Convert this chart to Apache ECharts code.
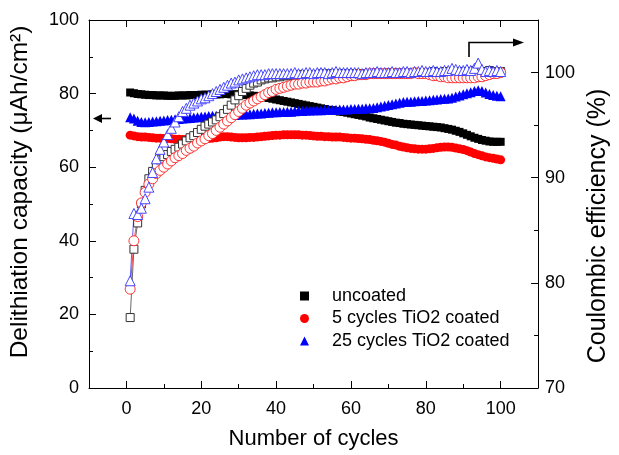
<!DOCTYPE html>
<html><head><meta charset="utf-8">
<script src="https://cdn.jsdelivr.net/npm/echarts@6/dist/echarts.min.js"></script>
<style>html,body{margin:0;padding:0;background:#fff}#c{width:619px;height:455px}</style>
</head><body><div id="c"></div>
<script>
const cycles = [1,2,3,4,5,6,7,8,9,10,11,12,13,14,15,16,17,18,19,20,21,22,23,24,25,26,27,28,29,30,31,32,33,34,35,36,37,38,39,40,41,42,43,44,45,46,47,48,49,50,51,52,53,54,55,56,57,58,59,60,61,62,63,64,65,66,67,68,69,70,71,72,73,74,75,76,77,78,79,80,81,82,83,84,85,86,87,88,89,90,91,92,93,94,95,96,97,98,99,100];

// Delithiation capacity (left axis, µAh/cm²)
const capUncoated = [80.3,80.1,79.9,79.8,79.7,79.6,79.6,79.5,79.5,79.5,
 79.4,79.4,79.4,79.5,79.5,79.5,79.6,79.6,79.6,79.7,
 79.7,79.7,79.8,79.8,79.8,79.9,79.9,79.8,79.8,79.8,
 79.7,79.6,79.5,79.4,79.3,79.1,79.0,78.8,78.6,78.4,
 78.2,78.0,77.8,77.6,77.4,77.2,77.0,76.8,76.6,76.4,
 76.2,76.0,75.8,75.6,75.5,75.3,75.1,75.0,74.8,74.6,
 74.4,74.2,74.0,73.8,73.5,73.3,73.1,72.9,72.7,72.5,
 72.3,72.1,72.0,71.8,71.7,71.6,71.5,71.4,71.3,71.2,
 71.1,71.0,70.9,70.8,70.6,70.4,70.2,69.9,69.6,69.2,
 68.8,68.4,68.0,67.7,67.4,67.2,67.0,66.9,66.9,66.9];
const cap5 = [68.7,68.5,68.3,68.2,68.2,68.1,68.0,67.9,67.9,67.8,
 67.8,67.7,67.6,67.6,67.5,67.5,67.5,67.4,67.5,67.6,
 67.7,67.8,67.9,68.0,68.2,68.3,68.3,68.2,68.1,68.0,
 68.0,68.0,68.1,68.1,68.2,68.3,68.4,68.5,68.6,68.7,
 68.7,68.8,68.8,68.8,68.8,68.8,68.7,68.7,68.6,68.5,
 68.4,68.4,68.3,68.3,68.2,68.2,68.2,68.1,68.0,67.9,
 67.9,67.8,67.7,67.6,67.5,67.3,67.2,67.0,66.8,66.5,
 66.2,66.0,65.7,65.5,65.3,65.1,65.0,64.9,64.9,64.9,
 65.0,65.1,65.3,65.4,65.5,65.5,65.4,65.2,65.0,64.8,
 64.5,64.1,63.7,63.4,63.1,62.8,62.6,62.4,62.2,62.0];
const cap25 = [73.6,73.2,72.6,72.3,72.2,72.3,72.4,72.5,72.6,72.7,
 72.8,72.9,73.0,73.1,73.2,73.3,73.4,73.5,73.6,73.7,
 73.8,73.9,74.0,74.0,74.1,74.1,74.2,74.2,74.2,74.3,
 74.3,74.4,74.4,74.5,74.6,74.6,74.7,74.8,74.9,74.9,
 75.0,75.0,75.1,75.1,75.2,75.3,75.3,75.4,75.4,75.5,
 75.5,75.5,75.6,75.6,75.6,75.6,75.7,75.7,75.7,75.8,
 75.8,75.9,75.9,76.0,76.0,76.1,76.3,76.5,76.7,76.9,
 77.1,77.3,77.5,77.7,77.8,77.8,77.9,78.0,78.0,78.1,
 78.2,78.3,78.4,78.5,78.6,78.7,78.9,79.2,79.5,79.8,
 80.1,80.4,80.7,80.9,80.7,80.3,79.9,79.6,79.4,79.3];

// Coulombic efficiency (right axis, %)
const ceUncoated = [76.7,83.2,85.7,87.5,88.8,89.9,90.6,91.2,91.7,92.0,
 92.2,92.5,92.7,92.9,93.2,93.5,93.8,94.0,94.3,94.6,
 94.9,95.1,95.3,95.5,95.8,96.1,96.5,96.9,97.4,97.8,
 98.2,98.5,98.8,99.0,99.1,99.3,99.4,99.5,99.5,99.6,
 99.6,99.7,99.7,99.7,99.7,99.8,99.8,99.8,99.8,99.8,
 99.8,99.9,99.9,99.8,99.9,99.9,99.9,99.9,99.8,99.9,
 99.9,99.9,99.9,99.9,99.9,99.9,100.0,99.9,99.9,100.0,
 100.0,100.0,100.0,99.9,100.0,100.0,100.0,100.0,100.0,100.0,
 100.0,100.1,100.0,100.0,100.1,100.1,100.0,100.1,100.1,100.1,
 100.1,100.1,100.2,100.1,100.1,100.1,100.2,100.1,100.1,100.1];
const ce5 = [79.4,84.0,86.3,87.6,88.6,89.4,89.9,90.4,90.7,91.0,
 91.3,91.6,91.9,92.1,92.3,92.6,92.8,93.0,93.3,93.5,
 93.7,94.0,94.2,94.5,94.8,95.1,95.4,95.7,96.0,96.3,
 96.6,96.9,97.1,97.3,97.5,97.7,97.9,98.1,98.2,98.4,
 98.5,98.6,98.7,98.8,98.9,98.9,99.0,99.0,99.1,99.1,
 99.1,99.2,99.2,99.3,99.4,99.4,99.5,99.5,99.6,99.7,
 99.7,99.8,99.8,99.8,99.9,99.9,99.9,99.9,99.9,99.9,
 99.9,99.9,99.9,99.9,99.9,99.9,100.0,99.9,99.9,99.9,
 99.8,99.7,99.7,99.6,99.6,99.5,99.5,99.5,99.5,99.5,
 99.5,99.5,99.5,99.6,99.6,99.7,99.8,99.9,99.9,100.0];
const ce25 = [80.2,86.6,86.5,87.1,88.0,89.1,90.5,91.8,92.7,93.4,
 94.1,94.7,95.3,95.8,96.3,96.6,96.9,97.1,97.3,97.5,
 97.6,97.8,98.0,98.2,98.4,98.6,98.8,99.0,99.1,99.3,
 99.4,99.5,99.6,99.7,99.8,99.8,99.8,99.9,99.9,99.9,
 99.9,99.9,99.9,99.9,100.0,99.9,99.9,100.0,100.0,99.9,
 100.0,100.0,100.0,99.9,100.0,100.1,100.0,100.0,100.0,100.0,
 100.0,100.0,99.9,100.0,100.0,100.0,100.1,100.0,100.0,100.0,
 100.1,100.0,100.0,100.1,100.1,100.0,100.1,100.1,100.2,100.1,
 100.1,100.2,100.1,100.1,100.2,100.2,100.4,100.3,100.2,100.2,
 100.3,100.2,100.4,100.9,100.3,100.1,100.2,100.1,100.2,100.1];

const seriesNames = ['uncoated', '5 cycles TiO2 coated', '25 cycles TiO2 coated'];
const xTicks = [0,20,40,60,80,100];
const xMinor = [10,30,50,70,90];
const yLeftTicks = [0,20,40,60,80,100];
const yLeftMinor = [10,30,50,70,90];
const yRightTicks = [70,80,90,100];
const yRightMinor = [75,85,95];

const FONT = "'Liberation Sans', Arial, Helvetica, sans-serif";
const pairs = (xs, ys) => xs.map((x, i) => [x, ys[i]]);

function xAx(pos, ticks, len, withLabel, withLine, extra) {
  return Object.assign({
    type: 'value', position: pos, min: -10, max: 110,
    axisLine: { show: withLine, onZero: false, lineStyle: { color: '#000', width: 1 } },
    axisTick: { show: true, inside: true, length: len, customValues: ticks, lineStyle: { color: '#000', width: 1 } },
    axisLabel: withLabel ? { show: true, customValues: ticks, margin: 12, color: '#000', fontSize: 18, fontFamily: FONT } : { show: false },
    splitLine: { show: false }
  }, extra || {});
}
function yAx(pos, min, max, ticks, len, withLabel, withLine, margin, extra) {
  return Object.assign({
    type: 'value', position: pos, min: min, max: max,
    axisLine: { show: withLine, onZero: false, lineStyle: { color: '#000', width: 1 } },
    axisTick: { show: true, inside: true, length: len, customValues: ticks, lineStyle: { color: '#000', width: 1 } },
    axisLabel: withLabel ? { show: true, customValues: ticks, margin: margin, color: '#000', fontSize: 18, fontFamily: FONT } : { show: false },
    splitLine: { show: false }
  }, extra || {});
}

const option = {
  animation: false,
  backgroundColor: '#fff',
  grid: { left: 89, right: 68, top: 20, bottom: 60, containLabel: false },
  xAxis: [
    xAx('bottom', xTicks, 7, true, true, {
      name: 'Number of cycles', nameLocation: 'middle', nameGap: 40,
      nameTextStyle: { color: '#000', fontSize: 22, fontFamily: FONT }
    }),
    xAx('bottom', xMinor, 4, false, false),
    xAx('top', xTicks, 7, false, true),
    xAx('top', xMinor, 4, false, false)
  ],
  yAxis: [
    yAx('left', 0, 100, yLeftTicks, 7, true, true, 10, {
      name: 'Delithiation capacity (μAh/cm²)', nameLocation: 'middle', nameGap: 56,
      nameTextStyle: { color: '#000', fontSize: 24.5, fontFamily: FONT, padding: [0, 0, 0, 24] }
    }),
    yAx('left', 0, 100, yLeftMinor, 4, false, false, 10),
    yAx('right', 70, 105, yRightTicks, 7, true, true, 7, {
      name: 'Coulombic efficiency (%)', nameLocation: 'middle', nameGap: 44,
      nameTextStyle: { color: '#000', fontSize: 25, fontFamily: FONT, padding: [0, 44, 0, 0] }
    }),
    yAx('right', 70, 105, yRightMinor, 4, false, false, 7)
  ],
  legend: {
    orient: 'vertical', left: 300, top: 287, padding: 0, itemGap: 4.5,
    itemWidth: 9, itemHeight: 9,
    textStyle: { color: '#000', fontSize: 18, fontFamily: FONT, padding: [0, 0, 0, 18] },
    data: [
      { name: seriesNames[0], icon: 'rect' },
      { name: seriesNames[1], icon: 'circle' },
      { name: seriesNames[2], icon: 'triangle' }
    ]
  },
  series: [
    { type: 'line', name: seriesNames[0], xAxisIndex: 0, yAxisIndex: 0, data: pairs(cycles, capUncoated),
      symbol: 'rect', symbolSize: 8, itemStyle: { color: '#000' }, lineStyle: { color: '#000', width: 1 } },
    { type: 'line', name: seriesNames[1], xAxisIndex: 0, yAxisIndex: 0, data: pairs(cycles, cap5),
      symbol: 'circle', symbolSize: 9, itemStyle: { color: '#ff0000' }, lineStyle: { color: '#ff0000', width: 1 } },
    { type: 'line', name: seriesNames[2], xAxisIndex: 0, yAxisIndex: 0, data: pairs(cycles, cap25),
      symbol: 'triangle', symbolSize: 10, itemStyle: { color: '#0000ff' }, lineStyle: { color: '#0000ff', width: 1 } },
    { type: 'line', name: seriesNames[0] + ' CE', xAxisIndex: 0, yAxisIndex: 2, data: pairs(cycles, ceUncoated),
      symbol: 'rect', symbolSize: 8, itemStyle: { color: '#fff', borderColor: '#333', borderWidth: 1 }, lineStyle: { color: '#444', width: 0.8 } },
    { type: 'line', name: seriesNames[1] + ' CE', xAxisIndex: 0, yAxisIndex: 2, data: pairs(cycles, ce5),
      symbol: 'circle', symbolSize: 10, itemStyle: { color: '#fff', borderColor: '#ff2020', borderWidth: 0.9 }, lineStyle: { color: '#ff2020', width: 0.8 } },
    { type: 'line', name: seriesNames[2] + ' CE', xAxisIndex: 0, yAxisIndex: 2, data: pairs(cycles, ce25),
      symbol: 'triangle', symbolSize: 10, itemStyle: { color: '#fff', borderColor: '#3333ff', borderWidth: 0.9 }, lineStyle: { color: '#3333ff', width: 0.8 } }
  ],
  graphic: [
    { type: 'line', shape: { x1: 100, y1: 118.5, x2: 111, y2: 118.5 }, style: { stroke: '#000', lineWidth: 1.6 } },
    { type: 'polygon', shape: { points: [[93, 118.5], [102, 114], [102, 123]] }, style: { fill: '#000' } },
    { type: 'polyline', shape: { points: [[469, 57], [469, 42.5], [514, 42.5]] }, style: { stroke: '#000', lineWidth: 1.6, fill: null } },
    { type: 'polygon', shape: { points: [[524, 42.5], [513, 38.5], [513, 46.5]] }, style: { fill: '#000' } }
  ]
};
const chart = echarts.init(document.getElementById('c'), null, { renderer: 'canvas' });
chart.setOption(option);
</script>
</body></html>
